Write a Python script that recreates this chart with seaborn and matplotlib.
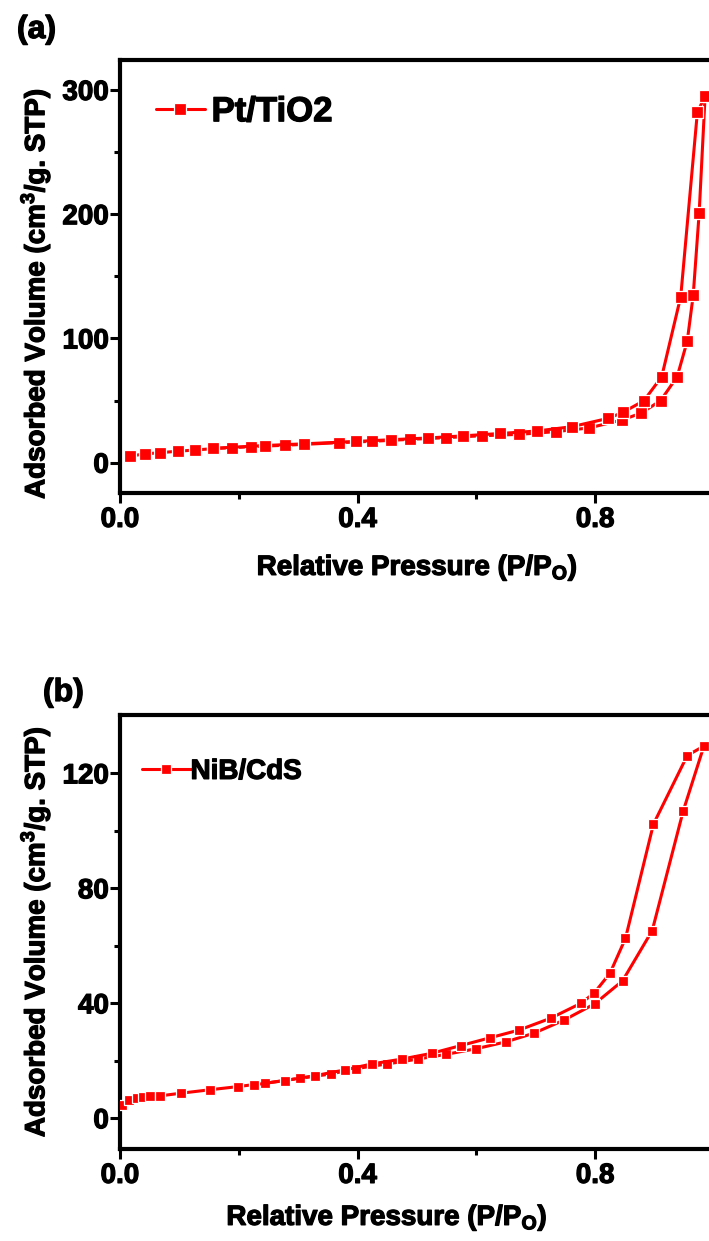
import matplotlib
matplotlib.use("Agg")
import matplotlib.pyplot as plt
import matplotlib.patheffects as pe
from matplotlib import font_manager
from matplotlib.ticker import FixedLocator, FormatStrFormatter
import seaborn as sns
import pandas as pd

# ---- Pt/TiO2 N2 isotherm (adsorption / desorption branches) ----
pt_ads_p = [0.017, 0.042, 0.068, 0.097, 0.126, 0.157, 0.189, 0.221, 0.277, 0.368,
            0.424, 0.489, 0.548, 0.610, 0.672, 0.734, 0.790, 0.845, 0.877, 0.910,
            0.938, 0.955, 0.965, 0.975, 0.985]
pt_ads_v = [5.4, 7.0, 8.1, 9.2, 10.2, 11.3, 12.1, 12.9, 14.0, 16.1,
            17.2, 18.8, 20.1, 21.7, 22.8, 25.0, 28.0, 34.4, 39.8, 49.9,
            69.2, 98.0, 134.8, 200.8, 295.0]
pt_des_p = [0.985, 0.972, 0.944, 0.912, 0.882, 0.847, 0.822, 0.761, 0.702, 0.640,
            0.578, 0.519, 0.457, 0.398, 0.310, 0.244, 0.157]
pt_des_v = [295.0, 282.1, 133.7, 69.2, 49.9, 40.6, 35.7, 29.0, 25.5, 23.5,
            21.6, 19.9, 18.5, 17.1, 15.2, 13.8, 11.6]

# ---- NiB/CdS N2 isotherm (adsorption / desorption branches) ----
nb_ads_p = [0.004, 0.015, 0.028, 0.038, 0.051, 0.068, 0.102, 0.151, 0.198, 0.244,
            0.303, 0.355, 0.398, 0.450, 0.502, 0.548, 0.600, 0.650, 0.697, 0.748,
            0.799, 0.846, 0.896, 0.948, 0.983]
nb_ads_v = [4.7, 6.2, 7.0, 7.3, 7.6, 7.8, 8.7, 9.9, 11.0, 12.2,
            13.9, 15.4, 17.3, 18.9, 20.6, 22.2, 24.2, 26.6, 29.6, 34.2,
            39.8, 47.8, 65.3, 106.8, 129.5]
nb_des_p = [0.983, 0.955, 0.898, 0.851, 0.825, 0.798, 0.776, 0.725, 0.672, 0.623,
            0.574, 0.525, 0.475, 0.424, 0.378, 0.328, 0.277, 0.225]
nb_des_v = [129.5, 126.2, 102.3, 62.6, 50.5, 43.5, 40.0, 34.8, 30.7, 28.0,
            25.3, 22.6, 20.6, 18.9, 16.8, 14.8, 13.1, 11.6]

x_major = [0.0, 0.4, 0.8]
x_minor = [0.2, 0.6, 1.0]
pt_y_major = [0, 100, 200, 300]
pt_y_minor = [50, 150, 250]
nb_y_major = [0, 40, 80, 120]
nb_y_minor = [20, 60, 100]

sns.set_style("ticks")
plt.rcParams["font.family"] = ["Liberation Sans", "DejaVu Sans"]
plt.rcParams["font.weight"] = "bold"
plt.rcParams["axes.labelweight"] = "bold"
plt.rcParams["mathtext.default"] = "regular"
for key in ["text.color", "axes.labelcolor", "xtick.color", "ytick.color",
            "xtick.labelcolor", "ytick.labelcolor"]:
    plt.rcParams[key] = "black"

installed = {f.name for f in font_manager.fontManager.ttflist}
legend_family = "Liberation Sans Narrow" if "Liberation Sans Narrow" in installed else "Liberation Sans"
narrow = legend_family == "Liberation Sans Narrow"

# a thin outline gives the heavy, print-like lettering
heavy = [pe.withStroke(linewidth=0.9, foreground="black")]

W, H = 709, 1241
fig = plt.figure(figsize=(W / 100, H / 100), dpi=100)
fig.patch.set_facecolor("white")

ax_left = 120 / W
ax_width = 594 / W
ax_a = fig.add_axes([ax_left, 1 - 493 / H, ax_width, 433 / H])
ax_b = fig.add_axes([ax_left, 1 - 1149 / H, ax_width, 434 / H])


def draw_panel(ax, ads_p, ads_v, des_p, des_v, label, ylim, y_major, y_minor,
               ms, leg_size, leg_xy, handlelength, textpad, ylabel_y, xlabel_xy):
    for i, (p, v) in enumerate([(ads_p, ads_v), (des_p, des_v)]):
        df = pd.DataFrame({"p": p, "v": v})
        sns.lineplot(data=df, x="p", y="v", sort=False, estimator=None, ax=ax,
                     color="#ff0000", linewidth=2.2, marker="s", markersize=ms,
                     markeredgecolor="white", markeredgewidth=0.9,
                     label=label if i == 0 else None, legend=False, zorder=3)

    ax.set_xlim(0, 1.0)
    ax.set_ylim(*ylim)
    ax.xaxis.set_major_locator(FixedLocator(x_major))
    ax.xaxis.set_minor_locator(FixedLocator(x_minor))
    ax.xaxis.set_major_formatter(FormatStrFormatter("%.1f"))
    ax.yaxis.set_major_locator(FixedLocator(y_major))
    ax.yaxis.set_minor_locator(FixedLocator(y_minor))
    ax.yaxis.set_major_formatter(FormatStrFormatter("%d"))

    for side in ["left", "bottom", "top", "right"]:
        ax.spines[side].set_visible(True)
        ax.spines[side].set_linewidth(3.0)
        ax.spines[side].set_color("black")

    ax.tick_params(axis="both", which="major", direction="out", length=7, width=2.2,
                   labelsize=20, color="black", labelcolor="black")
    ax.tick_params(axis="both", which="minor", direction="out", length=4, width=2.2,
                   color="black")
    ax.tick_params(axis="x", which="major", pad=3.0)
    ax.tick_params(axis="y", which="major", pad=1.0)
    ax.tick_params(top=False, right=False, which="both")
    for t in ax.get_xticklabels() + ax.get_yticklabels():
        t.set_fontweight("bold")
        t.set_path_effects(heavy)

    ax.set_xlabel("Relative Pressure (P/P$_{O}$)", fontsize=20, fontweight="bold",
                  va="baseline", color="black")
    ax.xaxis.set_label_coords(*xlabel_xy)
    ax.set_ylabel("Adsorbed Volume (cm$^{3}$/g. STP)", fontsize=20, fontweight="bold",
                  color="black")
    ax.yaxis.set_label_coords(-0.114, ylabel_y)
    ax.xaxis.label.set_path_effects(heavy)
    ax.yaxis.label.set_path_effects(heavy)

    line = ax.lines[0]
    leg = ax.legend(handles=[line], labels=[label], loc="center left", bbox_to_anchor=leg_xy,
                    frameon=False, borderpad=0, borderaxespad=0, handlelength=handlelength,
                    handletextpad=textpad, numpoints=1,
                    prop={"family": legend_family, "weight": "bold", "size": leg_size})
    for t in leg.get_texts():
        t.set_color("black")
        t.set_path_effects(heavy)
    ax.grid(False)
    ax.set_facecolor("white")


draw_panel(ax_a, pt_ads_p, pt_ads_v, pt_des_p, pt_des_v, "Pt/TiO2",
           (-24.4, 324.1), pt_y_major, pt_y_minor, ms=8.8,
           leg_size=28 if narrow else 25, leg_xy=(0.0606, 0.8806),
           handlelength=1.26 if narrow else 1.4, textpad=0.2,
           ylabel_y=0.46, xlabel_xy=(0.5, -82 / 433))

draw_panel(ax_b, nb_ads_p, nb_ads_v, nb_des_p, nb_des_v, "NiB/CdS",
           (-10.7, 140.3), nb_y_major, nb_y_minor, ms=7.6,
           leg_size=23 if narrow else 20, leg_xy=(0.037, 0.869),
           handlelength=1.53 if narrow else 1.75, textpad=0.0,
           ylabel_y=0.5, xlabel_xy=(0.449, -76 / 434))

for txt, x, y in [("(a)", 17, 30), ("(b)", 43, 693)]:
    fig.text(x / W, 1 - y / H, txt, fontsize=23, fontweight="bold", ha="left",
             va="center", color="black", path_effects=heavy)

fig.savefig("out.png", dpi=100, facecolor="white")
